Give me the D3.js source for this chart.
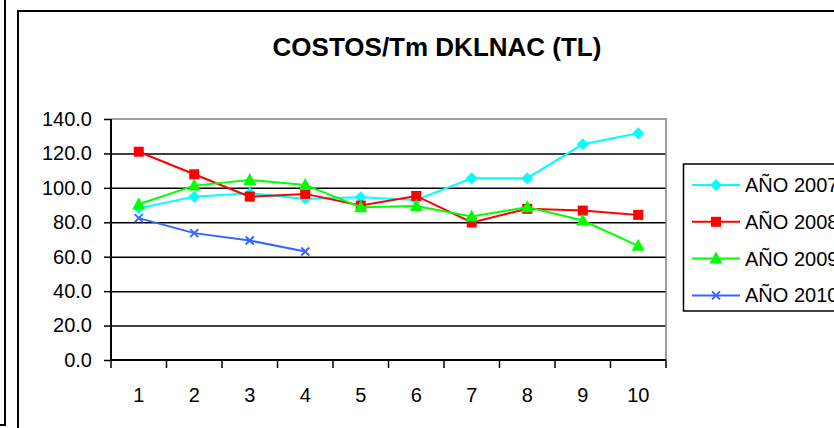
<!DOCTYPE html>
<html>
<head>
<meta charset="utf-8">
<script src="https://cdn.jsdelivr.net/npm/d3@7"></script>
<style>
html,body{margin:0;padding:0;background:#fff;}
svg{display:block;font-family:"Liberation Sans",Arial,sans-serif;}
</style>
</head>
<body>
<script>
const categories = ["1","2","3","4","5","6","7","8","9","10"];
const yTicks = [0,20,40,60,80,100,120,140];
const seriesNames = ["AÑO 2007","AÑO 2008","AÑO 2009","AÑO 2010"];
const values2007 = [88.2, 94.9, 96.9, 93.6, 94.6, 93.0, 105.6, 105.6, 125.3, 131.7];
const values2008 = [121.0, 107.9, 94.9, 96.5, 89.7, 95.3, 79.9, 87.8, 86.8, 84.3];
const values2009 = [90.5, 101.3, 104.6, 101.7, 88.8, 89.5, 83.3, 88.8, 81.0, 66.3];
const values2010 = [82.4, 73.7, 69.4, 63.0];
const seriesColors = ["#00FFFF","#FF0000","#00FF00","#3366FF"];
const seriesMarkers = ["diamond","square","triangle","x"];
const chartTitle = "COSTOS/Tm DKLNAC (TL)";

const series = [values2007, values2008, values2009, values2010].map((v,i)=>({
  name: seriesNames[i], values: v, color: seriesColors[i], marker: seriesMarkers[i]
}));

const W = 834, H = 428;
const svg = d3.select("body").append("svg").attr("width", W).attr("height", H);

// outer frames
svg.append("path").attr("d","M5,0 L5,425 L0,425").attr("fill","none").attr("stroke","#000").attr("stroke-width",2);
svg.append("rect").attr("x",18).attr("y",11).attr("width",900).attr("height",430)
  .attr("fill","#fff").attr("stroke","#000").attr("stroke-width",2);

const pL = 111, pR = 666, pT = 119, pB = 360;
const x = d3.scaleBand().domain(categories).range([pL, pR]).padding(0);
const y = d3.scaleLinear().domain([0,140]).range([pB, pT]);
const cx = c => x(c) + x.bandwidth()/2;

// title
svg.append("text").attr("x",437).attr("y",56).attr("text-anchor","middle")
  .attr("font-size",26).attr("font-weight","bold").text(chartTitle);

// gridlines
const grid = svg.append("g").attr("transform",`translate(${pL},0)`)
  .call(d3.axisLeft(y).tickValues(yTicks.filter(t=>t>0 && t<140)).tickSize(-(pR-pL)).tickFormat(""));
grid.select(".domain").remove();
grid.selectAll("line").attr("stroke","#000").attr("stroke-width",1.5);

// plot border (gray top & right)
svg.append("path").attr("d",`M${pL},${pT} L${pR},${pT} L${pR},${pB}`)
  .attr("fill","none").attr("stroke","#808080").attr("stroke-width",1.5);

// y axis
const ya = svg.append("g").attr("transform",`translate(${pL},0)`)
  .call(d3.axisLeft(y).tickValues(yTicks).tickSize(7).tickPadding(12).tickFormat(d3.format(".1f")));
ya.select(".domain").attr("stroke","#000").attr("stroke-width",2).attr("d",`M0,${pT}V${pB}`);
ya.selectAll(".tick line").attr("stroke","#000").attr("stroke-width",1.5);
ya.selectAll("text").attr("font-size",20).attr("fill","#000").attr("font-family","Liberation Sans, Arial, sans-serif");

// x axis
const xa = svg.append("g").attr("transform",`translate(0,${pB})`)
  .call(d3.axisBottom(x).tickSize(0).tickPadding(28));
xa.select(".domain").attr("stroke","#000").attr("stroke-width",2).attr("d",`M${pL},0H${pR}`);
xa.selectAll("text").attr("font-size",20).attr("fill","#000").attr("font-family","Liberation Sans, Arial, sans-serif");
// boundary ticks
const bounds = categories.map(c=>x(c)).concat([pR]);
svg.append("g").selectAll("line").data(bounds).join("line")
  .attr("x1",d=>d).attr("x2",d=>d).attr("y1",pB).attr("y2",pB+8)
  .attr("stroke","#000").attr("stroke-width",1.5);

function drawMarker(g, type, color){
  if(type==="diamond"){
    g.append("path").attr("d","M0,-6 L6,0 L0,6 L-6,0Z").attr("fill",color);
  } else if(type==="square"){
    g.append("rect").attr("x",-5).attr("y",-5).attr("width",10).attr("height",10).attr("fill",color);
  } else if(type==="triangle"){
    g.append("path").attr("d","M0,-7 L6.5,5 L-6.5,5Z").attr("fill",color);
  } else {
    g.append("path").attr("d","M-4,-4 L4,4 M-4,4 L4,-4").attr("stroke",color).attr("stroke-width",2).attr("fill","none");
  }
}

const line = d3.line().x((d,i)=>cx(categories[i])).y(d=>y(d));
series.forEach(s=>{
  svg.append("path").datum(s.values).attr("d",line).attr("fill","none")
    .attr("stroke",s.color).attr("stroke-width",2);
  s.values.forEach((v,i)=>{
    const g = svg.append("g").attr("transform",`translate(${cx(categories[i])},${y(v)})`);
    drawMarker(g, s.marker, s.color);
  });
});

// legend (cut off by the right edge, as in the reference)
svg.append("rect").attr("x",683.5).attr("y",164).attr("width",200).attr("height",147)
  .attr("fill","#fff").attr("stroke","#000").attr("stroke-width",1.5);
series.forEach((s,i)=>{
  const ly = 185 + i*36.8;
  svg.append("line").attr("x1",692).attr("x2",740).attr("y1",ly).attr("y2",ly)
    .attr("stroke",s.color).attr("stroke-width",2);
  const g = svg.append("g").attr("transform",`translate(716,${ly})`);
  drawMarker(g, s.marker, s.color);
  svg.append("text").attr("x",745).attr("y",ly+7).attr("font-size",20).text(s.name);
});
</script>
</body>
</html>
